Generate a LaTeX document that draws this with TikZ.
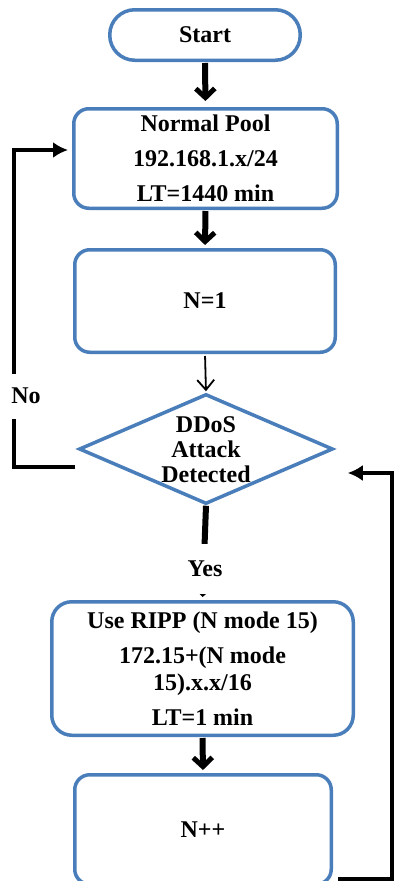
\documentclass[tikz,border=0pt]{standalone}
\usepackage{fontspec}
\setmainfont{Liberation Serif}
\usetikzlibrary{shapes.geometric,arrows.meta}
\definecolor{boxblue}{RGB}{74,126,187}
\begin{document}
\begin{tikzpicture}[x=1pt,y=-1pt,
  txt/.style={font=\fontsize{24}{27}\selectfont\bfseries,align=center,inner sep=0pt},
  box/.style={txt,draw=boxblue,line width=3.5pt,rounded corners=15pt,fill=white},
  decision/.style={shape=diamond,draw=boxblue,line width=3.5pt,fill=white,inner sep=0pt},
  bigarrow/.style={draw=black,line width=6pt,-{Straight Barb[length=9pt,width=19pt,line width=5pt]}},
  thinarrow/.style={draw=black,line width=1.8pt,-{Straight Barb[length=10pt,width=17pt,line width=1.8pt]}},
  loopline/.style={draw=black,line width=4pt,-{Latex[length=15pt,width=16pt]}},
  lbl/.style={txt,fill=white}]
\useasboundingbox (0,0) rectangle (394,881);
\fill[white] (0,0) rectangle (394,881);

\node[box,rounded corners=25pt,minimum width=190.5pt,minimum height=50.5pt] (start) at (205,35) {Start};
\node[box,minimum width=263.5pt,minimum height=99.5pt] (normal) at (205.5,158.5)
  {Normal Pool\\[8pt]192.168.1.x/24\\[8pt]LT=1440 min};
\node[box,minimum width=260.5pt,minimum height=102.5pt] (n1) at (205,301) {N=1};
\node[decision,minimum width=254pt,minimum height=110pt] (d) at (206,449) {};
\node[txt,font=\fontsize{24}{25}\selectfont\bfseries] (dtext) at (206,450) {DDoS\\Attack\\Detected};
\node[box,rounded corners=20pt,minimum width=301.5pt,minimum height=133.5pt] (ripp) at (202.5,668.5)
  {Use RIPP (N mode 15)\\[8pt]172.15+(N mode\\15).x.x/16\\[8pt]LT=1 min};
\node[box,minimum width=256.5pt,minimum height=109.5pt] (npp) at (203,829.5) {N++};

\draw[bigarrow,shorten <=1pt,shorten >=6pt] (start.south) -- (normal.north);
\draw[bigarrow,shorten <=1pt,shorten >=3pt] (normal.south) -- (n1.north);
\draw[thinarrow,shorten <=2pt,shorten >=1pt] (n1.south) -- (d.north);

\coordinate (nl) at (14,150);
\draw[loopline,shorten >=4pt] ([xshift=-2pt,yshift=-18pt]d.west) -| (nl) -- ([yshift=8.5pt]normal.west);
\node[lbl,minimum height=45pt,minimum width=30pt] (no) at (26,396) {No};

\draw[bigarrow,shorten >=3pt] (d.south) -- (ripp.north);
\node[lbl,minimum height=50pt,minimum width=50pt] (yes) at (205,569) {Yes};

\draw[bigarrow,shorten <=1pt,shorten >=3pt] (ripp.south) -- (npp.north);

\coordinate (rl) at (392,473);
\draw[loopline] ([xshift=5pt,yshift=-49.5pt]npp.east) -| (rl) -- ([xshift=13pt,yshift=-24pt]d.east);
\end{tikzpicture}
\end{document}
